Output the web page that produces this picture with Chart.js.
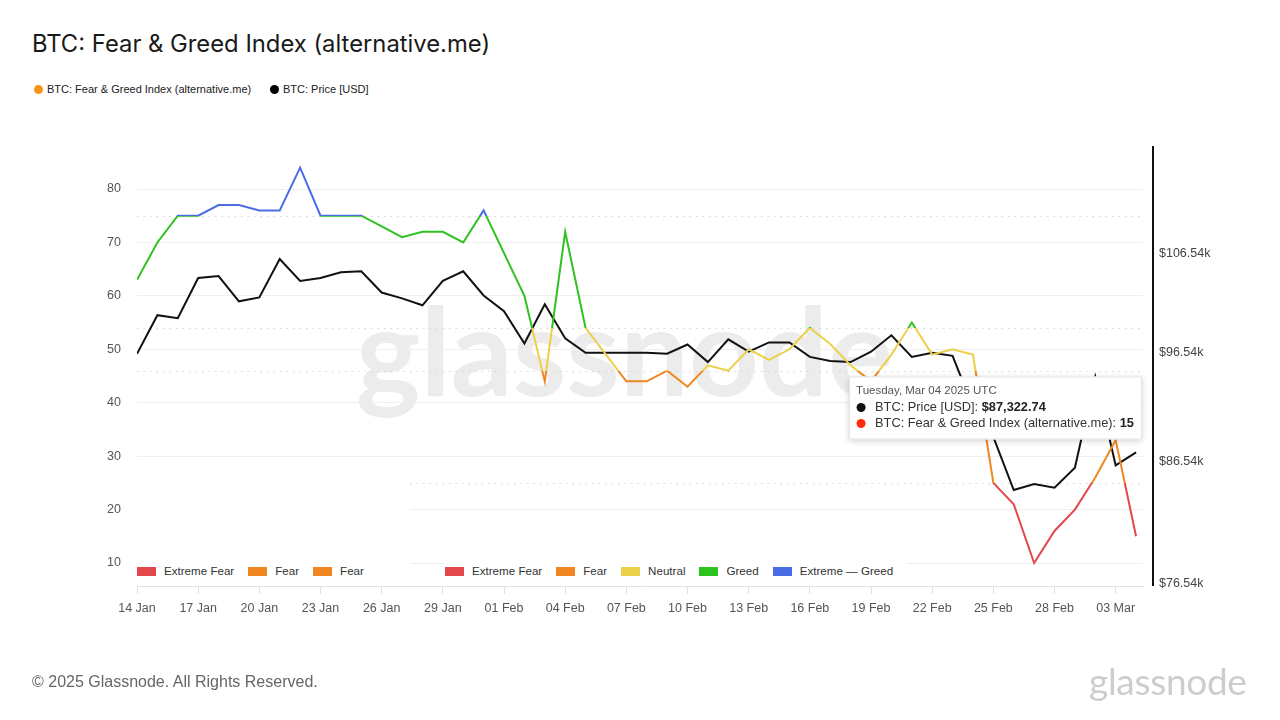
<!DOCTYPE html>
<html>
<head>
<meta charset="utf-8">
<title>BTC: Fear &amp; Greed Index (alternative.me)</title>
<script src="https://cdn.jsdelivr.net/npm/chart.js@4.4.1/dist/chart.umd.min.js"></script>
<style>
  html, body { margin: 0; padding: 0; background: #fff; }
  body {
    width: 1280px; height: 720px; position: relative; overflow: hidden;
    font-family: "Liberation Sans", Arial, sans-serif;
  }
  #chart { position: absolute; left: 0; top: 0; }
  #title {
    position: absolute; left: 32px; top: 28px;
    font-family: Inter, "Liberation Sans", sans-serif;
    font-size: 23.8px; line-height: 32px; color: #1a1a1a;
  }
  .top-item {
    position: absolute; top: 82px; font-size: 11px; line-height: 14px; color: #222;
    display: flex; align-items: center; white-space: nowrap;
  }
  .top-item i { display: inline-block; width: 9px; height: 9px; border-radius: 50%; margin-right: 4px; }
  .zones {
    position: absolute; top: 563px; display: flex; align-items: center;
    font-size: 11.6px; line-height: 16px; color: #333; background: #fff; white-space: nowrap;
  }
  .zones span { display: flex; align-items: center; margin-right: 14px; }
  .zones i { display: inline-block; width: 19px; height: 9px; margin-right: 8px; }
  #copy { position: absolute; left: 32px; top: 672px; font-size: 16px; line-height: 20px; color: #666; }
  #logo {
    position: absolute; left: 1089px; top: 660px;
    font-family: Lato, "Liberation Sans", sans-serif;
    font-size: 37px; line-height: 42px; color: #cdcdcd; letter-spacing: -0.3px;
  }
</style>
</head>
<body>
<div id="title">BTC: Fear &amp; Greed Index (alternative.me)</div>
<div class="top-item" style="left:34px"><i style="background:#f7931a"></i>BTC: Fear &amp; Greed Index (alternative.me)</div>
<div class="top-item" style="left:270px"><i style="background:#000"></i>BTC: Price [USD]</div>

<canvas id="chart" width="1280" height="720"></canvas>

<div class="zones" id="zones1" style="left:137px"></div>
<div class="zones" id="zones2" style="left:445px"></div>

<div id="copy">© 2025 Glassnode. All Rights Reserved.</div>
<div id="logo">glassnode</div>

<script>
// ---------- data ----------
const dates = [
  "14 Jan","15 Jan","16 Jan","17 Jan","18 Jan","19 Jan","20 Jan","21 Jan","22 Jan","23 Jan",
  "24 Jan","25 Jan","26 Jan","27 Jan","28 Jan","29 Jan","30 Jan","31 Jan",
  "01 Feb","02 Feb","03 Feb","04 Feb","05 Feb","06 Feb","07 Feb","08 Feb","09 Feb","10 Feb",
  "11 Feb","12 Feb","13 Feb","14 Feb","15 Feb","16 Feb","17 Feb","18 Feb","19 Feb","20 Feb",
  "21 Feb","22 Feb","23 Feb","24 Feb","25 Feb","26 Feb","27 Feb","28 Feb",
  "01 Mar","02 Mar","03 Mar","04 Mar"
];

const fearGreed = [
  63, 70, 75, 75, 77, 77, 76, 76, 84, 75, 75, 75, 73, 71, 72, 72, 70, 76,
  68, 60, 44, 72, 54, 49, 44, 44, 46, 43, 47, 46, 50, 48, 50, 54, 51, 47, 44, 49, 55, 49, 50, 49,
  25, 21, 10, 16, 20, 26, 33, 15
];

const btcPrice = [
  96400, 100200, 99900, 104000, 104200, 101600, 102000, 106000, 103700, 104000,
  104600, 104700, 102500, 101900, 101200, 103700, 104700, 102200,
  100600, 97400, 101300, 97900, 96500, 96500, 96500, 96500, 96400, 97300,
  95600, 97800, 96600, 97500, 97500, 96100, 95700, 95600, 96600, 98200,
  96100, 96500, 96200, 91400, 88700, 84100, 84600, 84300,
  86000, 94200, 86200, 87322.74
];

const xTickIndex = [0, 3, 6, 9, 12, 15, 18, 21, 24, 27, 30, 33, 36, 39, 42, 45, 48];
const fgTicks = [10, 20, 30, 40, 50, 60, 70, 80];
const priceTicks = [76540, 86540, 96540, 106540];

// sentiment zones (upper limit of each band)
const zoneNames = ["Extreme Fear", "Fear", "Neutral", "Greed", "Extreme Greed"];
const zoneLimits = [25, 46, 54, 75, 100];
const zoneColors = ["#e2474c", "#f0861f", "#ebd04a", "#2ec21f", "#4a6de6"];

const hoverDate = "Tuesday, Mar 04 2025 UTC";

// ---------- bottom zone legend (as shown in the picture) ----------
function fillZones(el, items) {
  el.innerHTML = items.map(it =>
    `<span><i style="background:${zoneColors[it[0]]}"></i>${it[1]}</span>`).join("");
}
fillZones(document.getElementById("zones1"), [[0, "Extreme Fear"], [1, "Fear"], [1, "Fear"]]);
fillZones(document.getElementById("zones2"), [[0, "Extreme Fear"], [1, "Fear"], [2, "Neutral"], [3, "Greed"], [4, "Extreme — Greed"]]);

// ---------- helpers ----------
function zoneGradient(chart) {
  const { ctx, chartArea, scales } = chart;
  if (!chartArea) return zoneColors[1];
  const top = chartArea.top, bottom = chartArea.bottom;
  const g = ctx.createLinearGradient(0, bottom, 0, top);
  const pos = v => Math.min(1, Math.max(0, (bottom - scales.y.getPixelForValue(v)) / (bottom - top)));
  let from = 0;
  zoneLimits.forEach((lim, i) => {
    g.addColorStop(pos(from), zoneColors[i]);
    g.addColorStop(pos(lim), zoneColors[i]);
    from = lim;
  });
  return g;
}

const bgPlugin = {
  id: "bg",
  beforeDraw(chart) {
    const { ctx } = chart;
    ctx.save();
    ctx.fillStyle = "#ececec";
    ctx.font = 'bold 122px Lato, "Liberation Sans", sans-serif';
    ctx.textBaseline = "alphabetic";
    ctx.fillText("glassnode", 356, 396);
    ctx.restore();
  },
  beforeDatasetsDraw(chart) {
    const { ctx, chartArea, scales } = chart;
    ctx.save();
    // dotted lines on the zone limits
    ctx.strokeStyle = "#d4d4d4";
    ctx.lineWidth = 1;
    ctx.setLineDash([1.5, 5]);
    zoneLimits.slice(0, 4).forEach(v => {
      const y = Math.round(scales.y.getPixelForValue(v)) + 0.5;
      ctx.beginPath();
      ctx.moveTo(chartArea.left, y);
      ctx.lineTo(chartArea.right, y);
      ctx.stroke();
    });
    // blank patch lower left
    ctx.fillStyle = "#fff";
    ctx.fillRect(chartArea.left, 466, 273, chartArea.bottom - 466 - 4);
    ctx.restore();
  },
  afterDraw(chart) {
    const { ctx, chartArea, scales } = chart;
    ctx.save();
    // right axis line
    ctx.fillStyle = "#111";
    ctx.fillRect(chartArea.right + 9, chartArea.top, 2, chartArea.bottom - chartArea.top);

    // hover box for the last day
    const last = dates.length - 1;
    const px = scales.x.getPixelForValue(last);
    const py = scales.y1.getPixelForValue(btcPrice[last]);
    const left = px - 287, top = py - 76;
    const priceTxt = "$" + btcPrice[last].toLocaleString("en-US", { minimumFractionDigits: 2, maximumFractionDigits: 2 });
    const fgTxt = String(fearGreed[last]);
    const reg = '12.8px "Liberation Sans", Arial, sans-serif';
    const bold = 'bold 12.8px "Liberation Sans", Arial, sans-serif';
    const rows = [
      ["BTC: Price [USD]: ", priceTxt, "#111"],
      ["BTC: Fear & Greed Index (alternative.me): ", fgTxt, "#ff2d0a"]
    ];
    let w = 0;
    rows.forEach(r => {
      ctx.font = reg; let a = ctx.measureText(r[0]).width;
      ctx.font = bold; a += ctx.measureText(r[1]).width;
      w = Math.max(w, a);
    });
    const boxW = w + 26 + 8, boxH = 63;
    ctx.shadowColor = "rgba(0,0,0,0.18)";
    ctx.shadowBlur = 6;
    ctx.shadowOffsetY = 2;
    ctx.fillStyle = "#fff";
    ctx.fillRect(left, top, boxW, boxH);
    ctx.shadowColor = "transparent";
    ctx.strokeStyle = "#e4e4e4";
    ctx.lineWidth = 1;
    ctx.strokeRect(left + 0.5, top + 0.5, boxW - 1, boxH - 1);

    ctx.textBaseline = "middle";
    ctx.fillStyle = "#555";
    ctx.font = '11.5px "Liberation Sans", Arial, sans-serif';
    ctx.fillText(hoverDate, left + 7, top + 14);
    rows.forEach((r, i) => {
      const y = top + 31 + i * 16;
      ctx.fillStyle = r[2];
      ctx.beginPath();
      ctx.arc(left + 12, y, 4.5, 0, Math.PI * 2);
      ctx.fill();
      ctx.fillStyle = "#333";
      ctx.font = reg;
      ctx.fillText(r[0], left + 26, y);
      const tw = ctx.measureText(r[0]).width;
      ctx.fillStyle = "#222";
      ctx.font = bold;
      ctx.fillText(r[1], left + 26 + tw, y);
    });
    ctx.restore();
  }
};

// ---------- chart ----------
Chart.defaults.font.family = '"Liberation Sans", Arial, sans-serif';
Chart.defaults.color = "#555";

new Chart(document.getElementById("chart"), {
  type: "line",
  data: {
    datasets: [
      {
        label: "BTC: Fear & Greed Index (alternative.me)",
        data: fearGreed.map((v, i) => ({ x: i, y: v })),
        yAxisID: "y",
        borderColor: ctx => zoneGradient(ctx.chart),
        borderWidth: 2,
        pointRadius: 0,
        tension: 0
      },
      {
        label: "BTC: Price [USD]",
        data: btcPrice.map((v, i) => ({ x: i, y: v })),
        yAxisID: "y1",
        borderColor: "#111",
        borderWidth: 2,
        pointRadius: 0,
        tension: 0
      }
    ]
  },
  options: {
    responsive: false,
    animation: false,
    events: [],
    layout: { padding: { left: 97, right: 37, top: 146, bottom: 94 } },
    plugins: {
      legend: { display: false },
      tooltip: { enabled: false }
    },
    scales: {
      x: {
        type: "linear",
        min: 0,
        max: 49.34,
        afterBuildTicks: s => { s.ticks = xTickIndex.map(v => ({ value: v })); },
        afterFit: s => { s.height = 40; },
        ticks: {
          callback: v => dates[v] || "",
          font: { size: 12.5 },
          color: "#555",
          padding: 7,
          maxRotation: 0,
          autoSkip: false
        },
        grid: { drawOnChartArea: false, drawTicks: true, tickLength: 8, color: "#e2e2e2" },
        border: { display: true, color: "#e2e2e2" }
      },
      y: {
        position: "left",
        min: 5.7,
        max: 88.05,
        afterBuildTicks: s => { s.ticks = fgTicks.map(v => ({ value: v })); },
        afterFit: s => { s.width = 40; },
        ticks: { font: { size: 12.5 }, color: "#555", padding: 16 },
        grid: { color: "#efefef", drawTicks: false },
        border: { display: false }
      },
      y1: {
        type: "logarithmic",
        position: "right",
        min: 76387,
        max: 118710,
        afterBuildTicks: s => { s.ticks = priceTicks.map(v => ({ value: v })); },
        afterFit: s => { s.width = 100; },
        ticks: {
          font: { size: 12.5 },
          color: "#444",
          padding: 16,
          callback: v => "$" + (v / 1000).toFixed(2) + "k"
        },
        grid: { drawOnChartArea: false, drawTicks: false },
        border: { display: false }
      }
    }
  },
  plugins: [bgPlugin]
});
</script>
</body>
</html>
